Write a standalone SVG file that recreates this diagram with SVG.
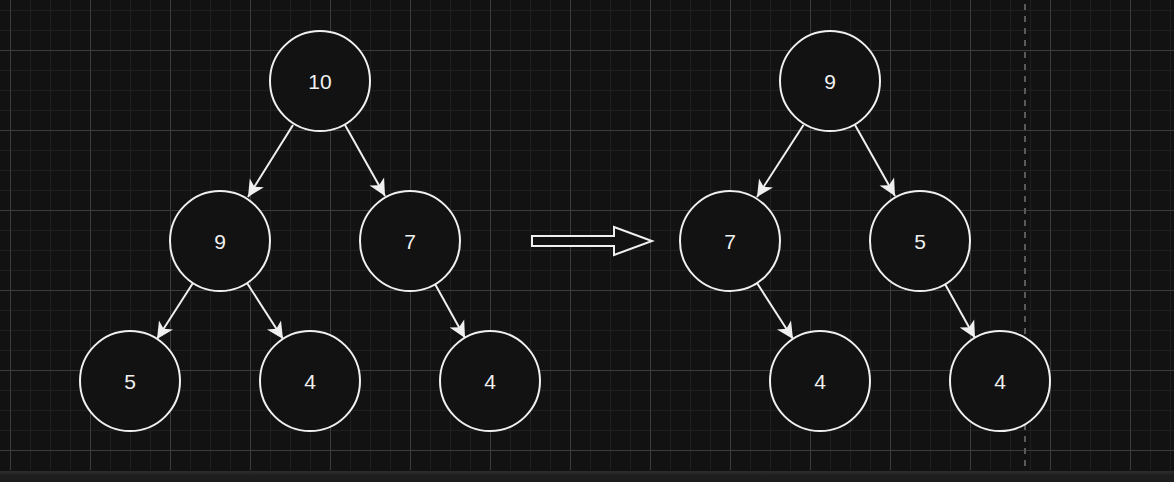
<svg xmlns="http://www.w3.org/2000/svg" width="1174" height="482" viewBox="0 0 1174 482">
  <defs>
    <pattern id="minor" x="10" y="10" width="20" height="20" patternUnits="userSpaceOnUse">
      <path d="M0,0 H20 M0,0 V20" stroke="#1f1f1f" stroke-width="2" fill="none"/>
    </pattern>
    <pattern id="major" x="10" y="-30" width="80" height="80" patternUnits="userSpaceOnUse">
      <path d="M0.5,0 V80 M0,0.5 H80" stroke="#3c3c3c" stroke-width="1" fill="none"/>
    </pattern>
    <marker id="arrow" markerUnits="userSpaceOnUse" markerWidth="20" markerHeight="20" viewBox="-16 -8 18 16" refX="0" refY="0" orient="auto">
      <path d="M0,0 L-15,-7.5 L-11,0 L-15,7.5 Z" fill="#f0f0f0"/>
    </marker>
    <linearGradient id="bar" x1="0" y1="0" x2="0" y2="1">
      <stop offset="0" stop-color="#2e2e2e"/>
      <stop offset="0.4" stop-color="#1e1e1e"/>
      <stop offset="1" stop-color="#1c1c1c"/>
    </linearGradient>
  </defs>
  <style>
    .node circle { fill: #121212; stroke: #f0f0f0; stroke-width: 2; }
    .node text { fill: #f0f0f0; font-family: "Liberation Sans", Arial, sans-serif; font-size: 21px; text-anchor: middle; }
    .edge { stroke: #f0f0f0; stroke-width: 2; fill: none; marker-end: url(#arrow); }
  </style>
  <rect x="0" y="0" width="1174" height="482" fill="#121212"/>
  <rect x="0" y="0" width="1174" height="470" fill="url(#minor)"/>
  <rect x="0" y="0" width="1174" height="470" fill="url(#major)"/>
  <line x1="1025" y1="4" x2="1025" y2="470" stroke="#5a5a5a" stroke-width="2" stroke-dasharray="6 6"/>
  <rect x="0" y="471" width="1174" height="11" fill="url(#bar)"/>

  <g id="connectors">
    <line class="edge" x1="293" y1="125" x2="248" y2="197"/>
    <line class="edge" x1="345" y1="125" x2="385" y2="196"/>
    <line class="edge" x1="193" y1="283" x2="157" y2="339"/>
    <line class="edge" x1="247" y1="283" x2="283" y2="339"/>
    <line class="edge" x1="435" y1="284" x2="465" y2="338"/>
    <line class="edge" x1="803.5" y1="125" x2="757" y2="197"/>
    <line class="edge" x1="855" y1="125" x2="895" y2="196"/>
    <line class="edge" x1="757" y1="283" x2="793" y2="339"/>
    <line class="edge" x1="945" y1="284" x2="975" y2="338"/>
  </g>

  <g id="transform-arrow">
    <polygon points="532,236 614,236 614,227 652,241 614,255 614,246 532,246" fill="#121212" stroke="#f0f0f0" stroke-width="2" stroke-linejoin="miter"/>
  </g>

  <g id="L10" class="node"><circle cx="320" cy="81" r="50"/><text x="320" y="89">10</text></g>
  <g id="L9" class="node"><circle cx="220" cy="241" r="50"/><text x="220" y="249">9</text></g>
  <g id="L7" class="node"><circle cx="410" cy="241" r="50"/><text x="410" y="249">7</text></g>
  <g id="L5" class="node"><circle cx="130" cy="381" r="50"/><text x="130" y="389">5</text></g>
  <g id="L4a" class="node"><circle cx="310" cy="381" r="50"/><text x="310" y="389">4</text></g>
  <g id="L4b" class="node"><circle cx="490" cy="381" r="50"/><text x="490" y="389">4</text></g>

  <g id="R9" class="node"><circle cx="830" cy="81" r="50"/><text x="830" y="89">9</text></g>
  <g id="R7" class="node"><circle cx="730" cy="241" r="50"/><text x="730" y="249">7</text></g>
  <g id="R5" class="node"><circle cx="920" cy="241" r="50"/><text x="920" y="249">5</text></g>
  <g id="R4a" class="node"><circle cx="820" cy="381" r="50"/><text x="820" y="389">4</text></g>
  <g id="R4b" class="node"><circle cx="1000" cy="381" r="50"/><text x="1000" y="389">4</text></g>
</svg>
